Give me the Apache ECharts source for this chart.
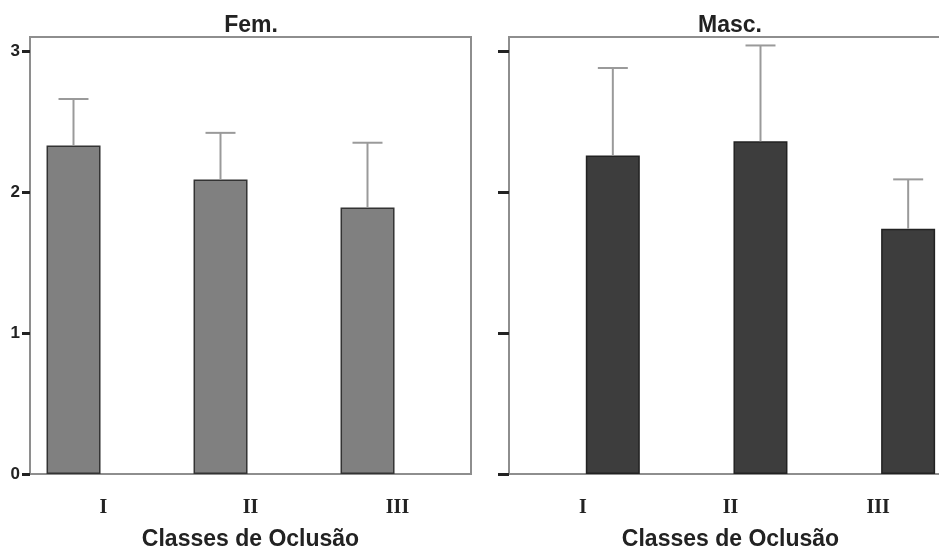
<!DOCTYPE html>
<html>
<head>
<meta charset="utf-8">
<script src="https://cdn.jsdelivr.net/npm/echarts@6/dist/echarts.min.js"></script>
<style>html,body{margin:0;padding:0;background:#fff;}#c{width:939px;height:547px;}</style>
</head>
<body>
<div id="c"></div>
<script>
var categories = ['I', 'II', 'III'];
var femMeans = [2.33, 2.09, 1.89];
var femUpper = [2.66, 2.42, 2.35];
var mascMeans = [2.26, 2.36, 1.74];
var mascUpper = [2.88, 3.04, 2.09];
var yTicks = [0, 1, 2, 3];
var panelTitles = ['Fem.', 'Masc.'];
var xTitle = 'Classes de Oclusão';

var chart = echarts.init(document.getElementById('c'), null, {renderer: 'canvas'});

var FRAME = '#8e8e8e';
var SANS = 'Liberation Sans, Arial, sans-serif';
var SERIF = 'Liberation Serif, Times New Roman, serif';
var BAR_W = 54;
var HALF_OFF = 30;

function errData(means, upper) {
  return means.map(function (m, i) { return [i, m, upper[i]]; });
}
function errSeries(idx, means, upper, off) {
  return {
    type: 'custom',
    xAxisIndex: idx, yAxisIndex: idx,
    z: 5,
    encode: {x: 0, y: [1, 2]},
    data: errData(means, upper),
    renderItem: function (params, api) {
      var p1 = api.coord([api.value(0), api.value(1)]);
      var p2 = api.coord([api.value(0), api.value(2)]);
      var x = p1[0] + off;
      var st = {stroke: '#9a9a9a', lineWidth: 2};
      return {
        type: 'group',
        children: [
          {type: 'line', shape: {x1: x, y1: p1[1], x2: x, y2: p2[1]}, style: st},
          {type: 'line', shape: {x1: x - 15, y1: p2[1], x2: x + 15, y2: p2[1]}, style: st}
        ]
      };
    }
  };
}
function xAxis(idx) {
  return {
    type: 'category', gridIndex: idx, data: categories,
    axisLine: {lineStyle: {color: FRAME, width: 2}},
    axisTick: {alignWithLabel: true, length: 6, lineStyle: {color: '#222', width: 2}},
    axisLabel: {fontFamily: SERIF, fontWeight: 'bold', fontSize: 20, color: '#222', margin: 24},
    name: xTitle, nameLocation: 'middle', nameGap: 54,
    nameTextStyle: {fontFamily: SANS, fontWeight: 'bold', fontSize: 23, color: '#222'}
  };
}
function yAxis(idx, showLabels, tickLen) {
  return {
    type: 'value', gridIndex: idx, min: 0, max: 3.1, interval: 1,
    splitLine: {show: false},
    axisLine: {show: true, lineStyle: {color: FRAME, width: 2}},
    axisTick: {show: true, length: tickLen, customValues: yTicks, lineStyle: {color: '#222', width: 3}},
    axisLabel: {show: showLabels, customValues: yTicks, fontFamily: SANS, fontWeight: 'bold', fontSize: 17, color: '#222', margin: 10}
  };
}

var option = {
  backgroundColor: '#fff',
  animation: false,
  title: [
    {text: panelTitles[0], left: 251, top: 14, textAlign: 'center', padding: 0,
     textStyle: {fontFamily: SANS, fontWeight: 'bold', fontSize: 23, color: '#222'}},
    {text: panelTitles[1], left: 730, top: 14, textAlign: 'center', padding: 0,
     textStyle: {fontFamily: SANS, fontWeight: 'bold', fontSize: 23, color: '#222'}}
  ],
  grid: [
    {left: 30, top: 37, width: 441, height: 437, show: true, borderColor: FRAME, borderWidth: 2, backgroundColor: '#fff', outerBoundsMode: 'none'},
    {left: 509, top: 37, width: 443, height: 437, show: true, borderColor: FRAME, borderWidth: 2, backgroundColor: '#fff', outerBoundsMode: 'none'}
  ],
  xAxis: [xAxis(0), xAxis(1)],
  yAxis: [yAxis(0, true, 8), yAxis(1, false, 11)],
  series: [
    {type: 'bar', xAxisIndex: 0, yAxisIndex: 0, data: femMeans, barWidth: BAR_W, barGap: '11%',
     itemStyle: {color: '#808080', borderColor: '#333', borderWidth: 1.5}},
    {type: 'bar', xAxisIndex: 0, yAxisIndex: 0, data: ['-', '-', '-'], barWidth: BAR_W, barGap: '11%'},
    {type: 'bar', xAxisIndex: 1, yAxisIndex: 1, data: ['-', '-', '-'], barWidth: BAR_W, barGap: '11%'},
    {type: 'bar', xAxisIndex: 1, yAxisIndex: 1, data: mascMeans, barWidth: BAR_W, barGap: '11%',
     itemStyle: {color: '#3d3d3d', borderColor: '#222', borderWidth: 1.5}},
    errSeries(0, femMeans, femUpper, -HALF_OFF),
    errSeries(1, mascMeans, mascUpper, HALF_OFF)
  ]
};
chart.setOption(option);
</script>
</body>
</html>
